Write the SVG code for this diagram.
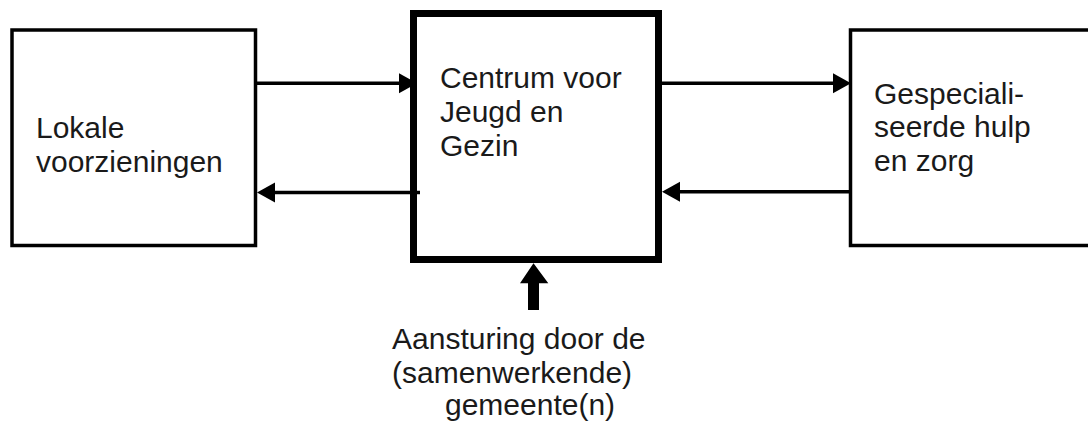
<svg xmlns="http://www.w3.org/2000/svg" width="1088" height="423" viewBox="0 0 1088 423">
<style>
.box{fill:#fff;stroke:#000;stroke-width:3.5}
.main{fill:#fff;stroke:#000;stroke-width:7}
.lbl{font-family:"Liberation Sans",Arial,sans-serif;font-size:30px;fill:#1a1a1a}
.conn{stroke:#000;stroke-width:3.5;fill:none;marker-end:url(#ah)}
</style>
<defs>
<marker id="ah" markerUnits="userSpaceOnUse" markerWidth="18" markerHeight="20" refX="0" refY="10" orient="auto" overflow="visible">
<path d="M0,0 L18,10 L0,20 Z" fill="#000"/>
</marker>
</defs>
<rect width="1088" height="423" fill="#fff"/>
<g id="lokale">
<rect class="box" x="12" y="30" width="243.5" height="215.5"/>
<text class="lbl" x="36" y="137.5">Lokale</text>
<text class="lbl" x="36" y="172">voorzieningen</text>
</g>
<g id="cjg">
<rect class="main" x="413.5" y="13.5" width="245" height="246"/>
<text class="lbl" x="440" y="88">Centrum voor</text>
<text class="lbl" x="440" y="122">Jeugd en</text>
<text class="lbl" x="440" y="156">Gezin</text>
</g>
<g id="gespecialiseerd">
<rect class="box" x="850.5" y="30" width="250" height="215.5"/>
<text class="lbl" x="874" y="103.5">Gespeciali-</text>
<text class="lbl" x="874" y="137">seerde hulp</text>
<text class="lbl" x="874" y="170.5">en zorg</text>
</g>
<g id="aansturing">
<text class="lbl" x="392" y="349">Aansturing door de</text>
<text class="lbl" x="392" y="383">(samenwerkende)</text>
<text class="lbl" x="445" y="415">gemeente(n)</text>
</g>
<g id="connectors">
<line class="conn" x1="257" y1="83.3" x2="399" y2="83.3"/>
<line class="conn" x1="420" y1="192.5" x2="275" y2="192.5"/>
<line class="conn" x1="662" y1="83.3" x2="833" y2="83.3"/>
<line class="conn" x1="850" y1="191.7" x2="680" y2="191.7"/>
<polygon points="528,310 539,310 539,283.3 548.3,283.3 533.5,263.3 520,283.3 528,283.3" fill="#000"/>
</g>
</svg>
